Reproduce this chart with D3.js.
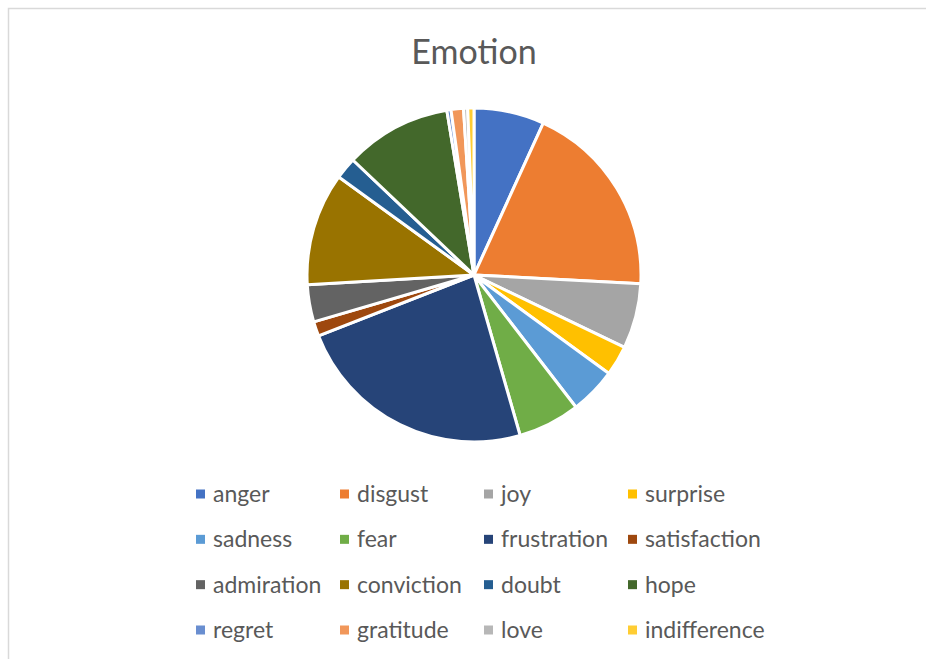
<!DOCTYPE html>
<html>
<head>
<meta charset="utf-8">
<script src="https://cdn.jsdelivr.net/npm/d3@7"></script>
<style>
  body { margin: 0; background: #fff; }
  text { font-family: Lato, "Open Sans", sans-serif; fill: #595959; }
</style>
</head>
<body>
<script>
// data
var emotions = ["anger", "disgust", "joy", "surprise", "sadness", "fear", "frustration", "satisfaction",
                "admiration", "conviction", "doubt", "hope", "regret", "gratitude", "love", "indifference"];
var counts = [68, 190, 63, 29, 45, 60, 235, 14, 36, 109, 21, 103, 4, 12, 4, 6];
var colors = ["#4472C4", "#ED7D31", "#A5A5A5", "#FFC000", "#5B9BD5", "#70AD47", "#264478", "#9E480E",
              "#636363", "#997300", "#255E91", "#43682B", "#698ED0", "#F1975A", "#B7B7B7", "#FFCD33"];
var title = "Emotion";

var width = 926, height = 659;
var cx = 474, cy = 275, radius = 167;

var svg = d3.select("body").append("svg")
  .attr("width", width)
  .attr("height", height);

// chart area border (cut off at right and bottom)
svg.append("rect")
  .attr("x", 8.5).attr("y", 8.5)
  .attr("width", width + 20).attr("height", height + 20)
  .attr("fill", "#fff")
  .attr("stroke", "#d9d9d9")
  .attr("stroke-width", 1.5);

svg.append("text")
  .attr("x", cx)
  .attr("y", 64)
  .attr("text-anchor", "middle")
  .style("font-size", "34px")
  .text(title);

var color = d3.scaleOrdinal().domain(emotions).range(colors);

var pie = d3.pie()
  .sort(null)
  .value(function(d, i) { return counts[i]; });

var arc = d3.arc().innerRadius(0).outerRadius(radius);

var g = svg.append("g")
  .attr("transform", "translate(" + cx + "," + cy + ")");

g.selectAll(".slice")
  .data(pie(emotions))
  .enter().append("path")
  .attr("class", "slice")
  .attr("d", arc)
  .attr("fill", function(d) { return color(d.data); })
  .attr("stroke", "#fff")
  .attr("stroke-width", 3)
  .attr("stroke-linejoin", "round");

// legend, 4 columns
var colX = d3.scaleBand().domain([0, 1, 2, 3]).range([195, 771]);
var rowY = d3.scalePoint().domain([0, 1, 2, 3]).range([494, 630]);

var item = svg.selectAll(".legend")
  .data(emotions)
  .enter().append("g")
  .attr("class", "legend")
  .attr("transform", function(d, i) {
    return "translate(" + colX(i % 4) + "," + rowY(Math.floor(i / 4)) + ")";
  });

item.append("rect")
  .attr("x", 1).attr("y", -4.5)
  .attr("width", 9).attr("height", 9)
  .attr("fill", function(d) { return color(d); });

item.append("text")
  .attr("x", 18)
  .attr("dy", "0.35em")
  .style("font-size", "23px")
  .text(function(d) { return d; });
</script>
</body>
</html>
